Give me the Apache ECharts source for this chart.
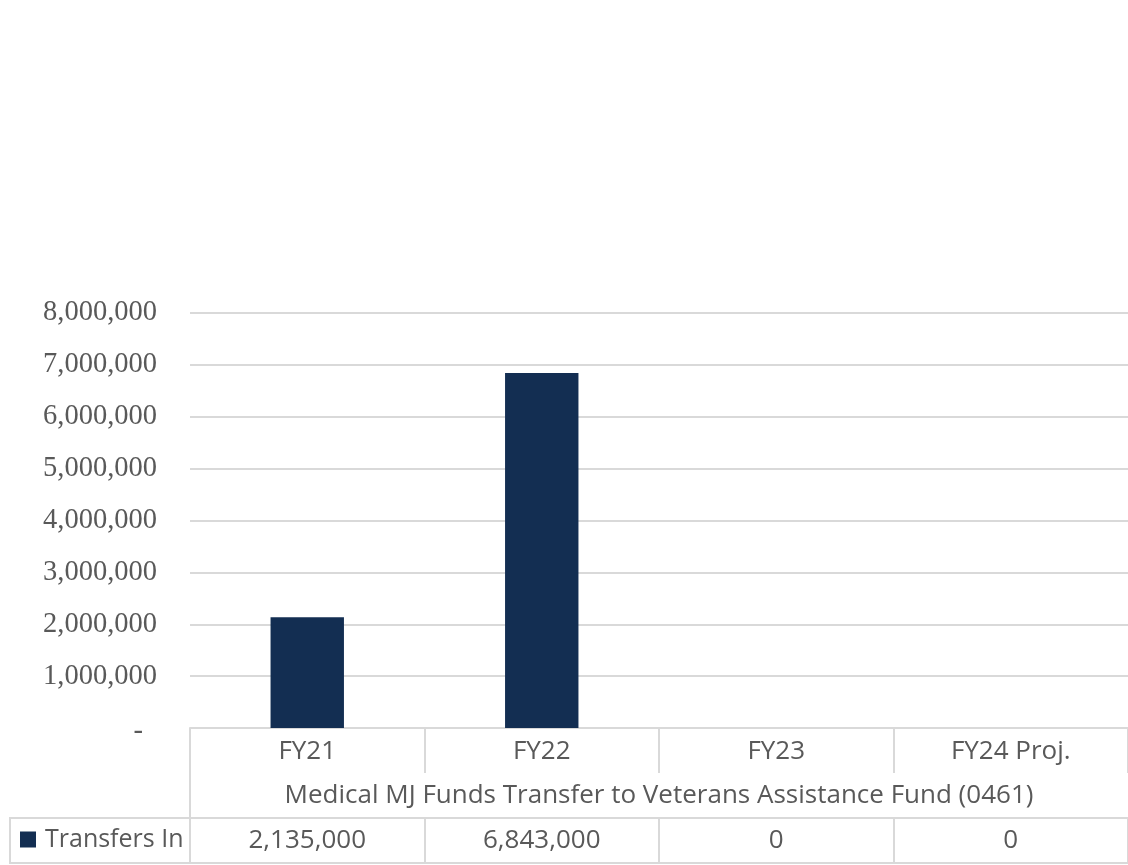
<!DOCTYPE html>
<html>
<head>
<meta charset="utf-8">
<script src="https://cdn.jsdelivr.net/npm/echarts@6/dist/echarts.min.js"></script>
<style>
html,body{margin:0;padding:0;background:#fff;}
#chart{width:1128px;height:865px;}
</style>
</head>
<body>
<div id="chart"></div>
<script>
const categories = ['FY21', 'FY22', 'FY23', 'FY24 Proj.'];
const seriesName = 'Transfers In';
const groupLabel = 'Medical MJ Funds Transfer to Veterans Assistance Fund (0461)';
const transfersIn = [2135000, 6843000, 0, 0];
const yMin = 0, yMax = 8000000, yStep = 1000000;

const GRID = '#d9d9d9';
const TEXT = '#595959';
const BAR = '#132E52';
const SANS = '"Open Sans", Lato, sans-serif';
const FS = 26;

const fmt = v => v.toLocaleString('en-US');

const chart = echarts.init(document.getElementById('chart'), null, {renderer: 'canvas'});
chart.setOption({
  animation: false,
  backgroundColor: '#fff',
  grid: {left: 190, right: 0, top: 313, bottom: 137},
  legend: {
    data: [seriesName],
    left: 20, top: 827, padding: 0,
    icon: 'rect', itemWidth: 16, itemHeight: 16,
    textStyle: {fontFamily: SANS, fontSize: 25, color: TEXT, padding: [0, 0, 0, 4]}
  },
  xAxis: [{
    type: 'category', data: categories, position: 'bottom',
    axisLine: {show: true, lineStyle: {color: GRID, width: 2}},
    axisTick: {show: true, alignWithLabel: false, length: 45, lineStyle: {color: GRID, width: 2}},
    axisLabel: {fontFamily: SANS, fontSize: FS, color: TEXT, margin: 11},
    name: groupLabel, nameLocation: 'middle', nameGap: 55,
    nameTextStyle: {fontFamily: SANS, fontSize: FS, color: TEXT}
  }, {
    type: 'category', data: categories, position: 'bottom', offset: 90,
    axisLine: {show: true, lineStyle: {color: GRID, width: 2}},
    axisTick: {show: true, alignWithLabel: false, length: 45, lineStyle: {color: GRID, width: 2}},
    axisLabel: {fontFamily: SANS, fontSize: FS, color: TEXT, margin: 10,
      formatter: (v, i) => fmt(transfersIn[i])}
  }],
  yAxis: {
    type: 'value', min: yMin, max: yMax, interval: yStep,
    axisLine: {show: false}, axisTick: {show: false},
    splitLine: {lineStyle: {color: GRID, width: 2}},
    axisLabel: {
      fontFamily: '"Liberation Serif", "Times New Roman", serif', fontSize: 28.5, color: TEXT, margin: 33,
      formatter: v => v === 0 ? '{z|-}' : fmt(v),
      rich: {z: {fontFamily: '"Liberation Serif", serif', fontSize: 28.5, color: TEXT, padding: [8, 14, 0, 0]}}
    }
  },
  series: [{
    name: seriesName, type: 'bar', data: transfersIn, xAxisIndex: 0,
    barWidth: '31.3%', itemStyle: {color: BAR}
  }],
  graphic: [
    {type: 'line', shape: {x1: 10, y1: 818, x2: 191, y2: 818}, style: {stroke: GRID, lineWidth: 2}},
    {type: 'line', shape: {x1: 10, y1: 863, x2: 1128, y2: 863}, style: {stroke: GRID, lineWidth: 2}},
    {type: 'line', shape: {x1: 10, y1: 817, x2: 10, y2: 864}, style: {stroke: GRID, lineWidth: 2}},
    {type: 'line', shape: {x1: 190, y1: 728, x2: 190, y2: 864}, style: {stroke: GRID, lineWidth: 2}}
  ]
});
</script>
</body>
</html>
